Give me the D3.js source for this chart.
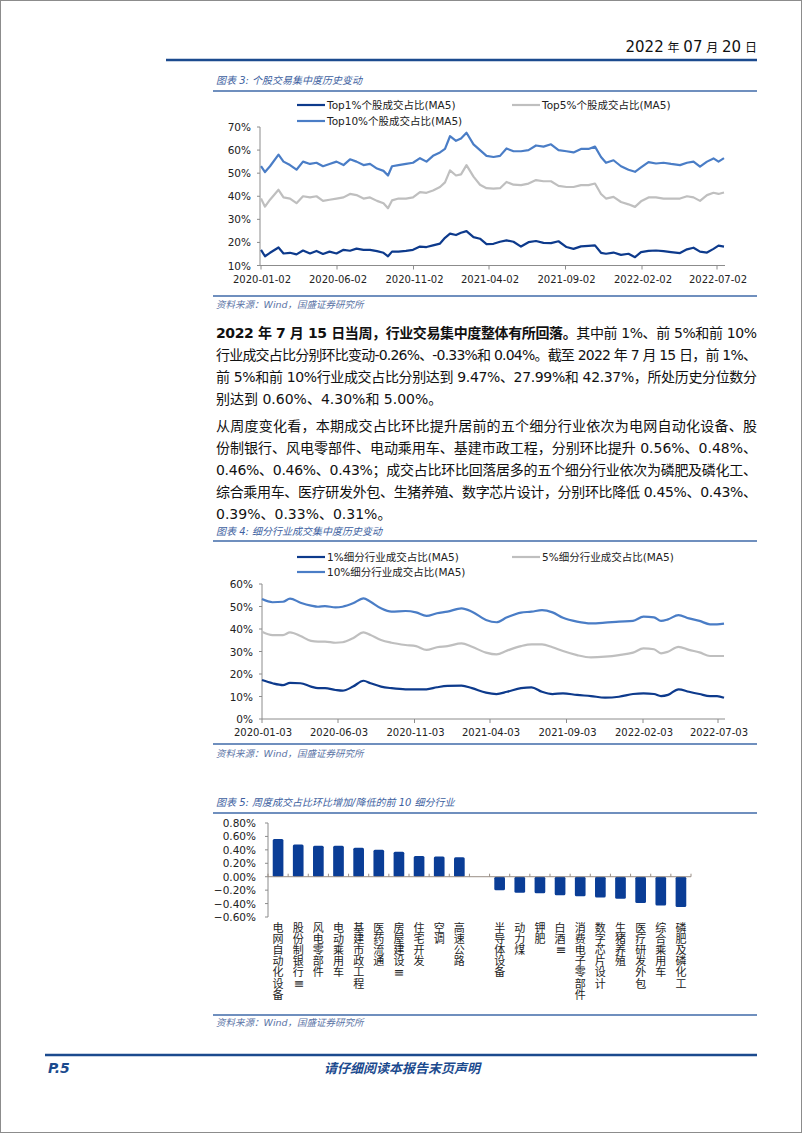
<!DOCTYPE html>
<html><head><meta charset="utf-8">
<script src="https://cdn.jsdelivr.net/npm/d3@7"></script>
<style>body{margin:0;background:#fff}svg{display:block}</style>
</head><body><svg id="c" width="802" height="1133"></svg>
<script>
// ---------- Chart 1 data (个股交易集中度) ----------
const dates1 = ['2020-01-02','2020-01-10','2020-01-20','2020-02-06','2020-02-16','2020-02-29','2020-03-13','2020-03-26','2020-04-09','2020-04-22','2020-05-05','2020-05-18','2020-06-01','2020-06-15','2020-06-28','2020-07-11','2020-07-25','2020-08-07','2020-08-21','2020-09-03','2020-09-12','2020-09-20','2020-10-03','2020-10-18','2020-11-01','2020-11-15','2020-11-28','2020-12-11','2020-12-25','2021-01-04','2021-01-14','2021-01-26','2021-02-05','2021-02-16','2021-03-02','2021-03-15','2021-03-28','2021-04-11','2021-04-24','2021-05-07','2021-05-21','2021-06-05','2021-06-20','2021-07-05','2021-07-20','2021-08-04','2021-08-19','2021-09-04','2021-09-18','2021-10-03','2021-10-18','2021-10-31','2021-11-12','2021-11-22','2021-12-07','2021-12-22','2022-01-06','2022-01-19','2022-01-31','2022-02-15','2022-03-02','2022-03-17','2022-04-01','2022-04-19','2022-05-03','2022-05-16','2022-05-29','2022-06-12','2022-06-25','2022-07-05','2022-07-16'];
const top1 = [16.8,14,15.5,17.8,15.2,15.5,14.8,16.5,15.2,16.3,15,16,15.2,16.8,16.4,17.3,16.8,16.8,16.2,15.5,14,16,16,16.3,16.8,18.2,18,18.7,19.5,22,23.8,23.2,24.2,24.9,22.3,21.6,19.3,19.4,20.3,20.9,20.3,18.2,20.1,20.6,19.8,19.7,20.5,18,17.2,18.3,18.5,18.7,15.5,15.1,15.6,14.6,15.1,13.6,15.8,16.3,16.5,16.2,15.8,15.4,17,17.7,16,15.6,17.2,18.6,18.2];
const top5 = [39,35.5,38.5,42.8,39.5,39,37,40,39.5,40,38,38.5,39,39.5,41,40.5,39,39.5,38,37,34.8,38.2,39,39,39.5,41.8,41.5,42.5,44,46,51.2,49,49.5,53.5,48.5,45,43.5,43.3,43.5,46.2,45,44.8,45.5,47,46.5,46.5,44.5,44,44,44.8,44.8,45.5,41,39,39.7,37.5,36.5,35.4,37.8,39.5,39.5,39,39,39,40,39.5,38,40.5,41.5,41,41.6];
const top10 = [53,50.5,53,58,55,53.5,51.5,55,54,54.5,53,54,55,53.5,56,55,53.5,54,52,51,49,53,53.5,54,54.5,56.5,55,57.5,59,60.5,66,64,65,67.5,62.5,60,57.5,57,57.5,60.7,59.5,59.5,60,62,61.5,62.5,60,59.5,59,60.5,60.5,61.5,57,54.5,55.6,53,51.5,50.6,52.5,54.8,54.2,54.5,54,53.5,54.5,55,52.8,55,56.4,55,56.5];
const xTicks1 = ['2020-01-02','2020-06-02','2020-11-02','2021-04-02','2021-09-02','2022-02-02','2022-07-02'];
const yTicks1 = [10,20,30,40,50,60,70];
const legend1 = ['Top1%个股成交占比(MA5)','Top5%个股成交占比(MA5)','Top10%个股成交占比(MA5)'];

// ---------- Chart 2 data (细分行业成交集中度) ----------
const dates2 = ['2020-01-03','2020-01-24','2020-02-14','2020-02-28','2020-03-20','2020-04-10','2020-04-24','2020-05-08','2020-05-29','2020-06-12','2020-07-03','2020-07-24','2020-08-07','2020-08-28','2020-09-18','2020-10-16','2020-11-06','2020-11-27','2020-12-18','2021-01-08','2021-02-05','2021-02-26','2021-03-26','2021-04-16','2021-05-07','2021-06-04','2021-06-25','2021-07-16','2021-08-06','2021-08-27','2021-09-24','2021-10-22','2021-11-19','2021-12-17','2022-01-14','2022-02-04','2022-02-25','2022-03-11','2022-03-25','2022-04-15','2022-05-06','2022-05-27','2022-06-17','2022-07-01','2022-07-15'];
const ind1 = [17.3,15.9,15.1,16.1,15.9,14.4,13.7,13.7,12.9,12.6,14.4,17,15.9,14.4,13.7,13.2,13.2,13.2,14.1,14.7,14.8,13.7,11.7,11.1,12.1,13.7,14.1,12.1,11.1,11.4,10.7,10.2,9.5,9.9,11.1,11.4,11.1,10.2,10.7,13.2,12.1,11.1,10.2,10.2,9.47];
const ind5 = [38.8,37.3,37.3,38.5,36.9,34.7,34.4,34.4,33.9,34.1,35.9,38.5,37.3,35.1,33.9,32.9,32.4,30.7,31.9,32.4,33.6,32.1,29.5,28.7,30.4,32.4,33.2,33.2,31.9,30.2,28.4,27.4,27.7,28.4,29.5,31.4,31,29.2,29.9,32.1,30.7,29.6,28,28,27.99];
const ind10 = [53.3,51.9,52.1,53.5,51.7,50.4,49.9,50.2,49.6,49.9,51.4,53.6,52.1,49.2,47.7,48,47.4,45.8,47,47.7,49.2,47.7,44,43,45.2,47.3,47.7,48.4,47.4,45,43.3,42.5,42.8,43.3,43.6,45.5,45.2,43.6,44.3,46.2,44.7,43.6,42.1,42.1,42.37];
const xTicks2 = ['2020-01-03','2020-06-03','2020-11-03','2021-04-03','2021-09-03','2022-02-03','2022-07-03'];
const yTicks2 = [0,10,20,30,40,50,60];
const legend2 = ['1%细分行业成交占比(MA5)','5%细分行业成交占比(MA5)','10%细分行业成交占比(MA5)'];

// ---------- Chart 3 data (周度环比变化前10) ----------
const cats3 = ['电网自动化设备','股份制银行Ⅲ','风电零部件','电动乘用车','基建市政工程','医药流通','房屋建设Ⅲ','住宅开发','空调','高速公路','','半导体设备','动力煤','钾肥','白酒Ⅲ','消费电子零部件','数字芯片设计','生猪养殖','医疗研发外包','综合乘用车','磷肥及磷化工'];
const vals3 = [0.56,0.48,0.46,0.46,0.43,0.40,0.37,0.31,0.30,0.29,null,-0.20,-0.24,-0.245,-0.275,-0.29,-0.31,-0.33,-0.39,-0.43,-0.45];
const yTicks3 = [-0.6,-0.4,-0.2,0,0.2,0.4,0.6,0.8];

// ---------- Text ----------
const para1 = [
  [{t:'2022 年 7 月 15 日当周，行业交易集中度整体有所回落。',b:true},{t:'其中前 1%、前 5%和前 10%'}],
  [{t:'行业成交占比分别环比变动-0.26%、-0.33%和 0.04%。截至 2022 年 7 月 15 日，前 1%、'}],
  [{t:'前 5%和前 10%行业成交占比分别达到 9.47%、27.99%和 42.37%，所处历史分位数分'}],
  [{t:'别达到 0.60%、4.30%和 5.00%。'}]
];
const para2 = [
  [{t:'从周度变化看，本期成交占比环比提升居前的五个细分行业依次为电网自动化设备、股'}],
  [{t:'份制银行、风电零部件、电动乘用车、基建市政工程，分别环比提升 0.56%、0.48%、'}],
  [{t:'0.46%、0.46%、0.43%；成交占比环比回落居多的五个细分行业依次为磷肥及磷化工、'}],
  [{t:'综合乘用车、医疗研发外包、生猪养殖、数字芯片设计，分别环比降低 0.45%、0.43%、'}],
  [{t:'0.39%、0.33%、0.31%。'}]
];

const FONT = '"DejaVu Sans","Noto Sans CJK SC",sans-serif';
const DARK = '#0d3a8c', GRAY = '#bfbfbf', MID = '#4a7dc6', HEAD = '#1b4a8e', TITLE = '#3e5f9f';
const parse = d3.timeParse('%Y-%m-%d');
const svg = d3.select('#c');
svg.append('rect').attr('x',0.5).attr('y',0.5).attr('width',801).attr('height',1132).attr('fill','#fff').attr('stroke','#8c8c8c');

// header
const hdr = svg.append('text').attr('x',757).attr('y',52).attr('text-anchor','end').attr('fill','#111').attr('font-family',FONT);
[['2022',15],[' 年 ',12],['07',15],[' 月 ',12],['20',15],[' 日',12]].forEach(([s,f])=>hdr.append('tspan').attr('font-size',f).text(s));
svg.append('line').attr('x1',166).attr('x2',757).attr('y1',60).attr('y2',60).attr('stroke',HEAD).attr('stroke-width',2.5);

function section(title, ty, ly){
  svg.append('text').attr('x',216).attr('y',ty).attr('font-family',FONT).attr('font-size',10).attr('font-style','italic').attr('fill',TITLE).text(title);
  svg.append('line').attr('x1',213).attr('x2',757).attr('y1',ly).attr('y2',ly).attr('stroke','#3f6aa8').attr('stroke-width',1.5);
}
function source(ly, ty){
  svg.append('line').attr('x1',213).attr('x2',757).attr('y1',ly).attr('y2',ly).attr('stroke','#3f6aa8').attr('stroke-width',1.5);
  svg.append('text').attr('x',216).attr('y',ty).attr('font-family',FONT).attr('font-size',9.5).attr('font-style','italic').attr('fill','#5b74a6').text('资料来源：Wind，国盛证券研究所');
}

function legend(items, colors, y1, y2){
  const pos = [[297,y1],[512,y1],[297,y2]];
  items.forEach((t,i)=>{
    const [x,y] = pos[i];
    svg.append('line').attr('x1',x).attr('x2',x+28).attr('y1',y).attr('y2',y).attr('stroke',colors[i]).attr('stroke-width',2.2);
    svg.append('text').attr('x',x+30).attr('y',y+4).attr('font-family',FONT).attr('font-size',10.5).attr('fill','#222').text(t);
  });
}

function lineChart(o){
  const g = svg.append('g');
  g.append('line').attr('x1',o.x0).attr('x2',o.x0).attr('y1',o.y.range()[0]).attr('y2',o.y.range()[1]).attr('stroke','#8c8c8c');
  o.yTicks.forEach(v=>{
    g.append('line').attr('x1',o.x0-3).attr('x2',o.x0).attr('y1',o.y(v)).attr('y2',o.y(v)).attr('stroke','#8c8c8c');
    g.append('text').attr('x',o.x0-9).attr('y',o.y(v)+4).attr('text-anchor','end').attr('font-family',FONT).attr('font-size',10.5).attr('fill','#222').text(v+'%');
  });
  const last = parse(o.dates[o.dates.length-1]);
  g.append('line').attr('x1',o.x0).attr('x2',o.x(last)+1).attr('y1',o.y.range()[0]).attr('y2',o.y.range()[0]).attr('stroke','#8c8c8c');
  o.xTicks.forEach(s=>{
    const xx = o.x(parse(s));
    g.append('line').attr('x1',xx).attr('x2',xx).attr('y1',o.y.range()[0]).attr('y2',o.y.range()[0]+4).attr('stroke','#8c8c8c');
    g.append('text').attr('x',xx+1).attr('y',o.y.range()[0]+17).attr('text-anchor','middle').attr('font-family',FONT).attr('font-size',10).attr('fill','#222').text(s);
  });
  o.series.forEach(([vals,color])=>{
    const line = d3.line().x((d,i)=>o.x(parse(o.dates[i]))).y(d=>o.y(d)).curve(o.curve||d3.curveLinear);
    g.append('path').datum(vals).attr('d',line).attr('fill','none').attr('stroke',color).attr('stroke-width',2.2).attr('stroke-linejoin','round');
  });
}

// ---------- Chart 1 ----------
section('图表 3:  个股交易集中度历史变动',84,91);
legend(legend1,[DARK,GRAY,MID],105,121);
lineChart({
  x: d3.scaleTime().domain([parse('2020-01-02'),parse('2022-07-02')]).range([261,717]),
  y: d3.scaleLinear().domain([10,70]).range([265.5,127]),
  x0: 260, dates: dates1, xTicks: xTicks1, yTicks: yTicks1,
  series: [[top5,GRAY],[top10,MID],[top1,DARK]]
});
source(296,308);

// ---------- Body text ----------
function paragraph(lines, y0, lh){
  lines.forEach((segs,i)=>{
    const t = svg.append('text').attr('x',216).attr('y',y0+i*lh).attr('font-family',FONT).attr('font-size',14).attr('fill','#111');
    segs.forEach(s=>t.append('tspan').attr('font-weight',s.b?'bold':'normal').text(s.t));
    if(i<lines.length-1){
      const n = t.node().textContent.length;
      const w = t.node().getComputedTextLength();
      t.attr('letter-spacing',(541-w)/(n-1));
    }
  });
}
paragraph(para1,338,22);
paragraph(para2,431,22);

// ---------- Chart 2 ----------
section('图表 4:  细分行业成交集中度历史变动',535,541);
legend(legend2,[DARK,GRAY,MID],557,572);
lineChart({
  x: d3.scaleTime().domain([parse('2020-01-03'),parse('2022-07-03')]).range([262,718]),
  y: d3.scaleLinear().domain([0,60]).range([719,584]),
  x0: 262, dates: dates2, xTicks: xTicks2, yTicks: yTicks2,
  series: [[ind5,GRAY],[ind10,MID],[ind1,DARK]], curve: d3.curveMonotoneX
});
source(744,757);

// ---------- Chart 3 ----------
section('图表 5:  周度成交占比环比增加/降低的前 10 细分行业',806,813);
const keys3 = cats3.map((c,i)=>c||('blank'+i));
const x3 = d3.scaleBand().domain(keys3).range([268,691]).paddingInner(0.47).paddingOuter(0.235);
const y3 = d3.scaleLinear().domain([-0.6,0.8]).range([917,823]);
const g3 = svg.append('g');
g3.append('line').attr('x1',268).attr('x2',268).attr('y1',y3(0.8)).attr('y2',y3(-0.6)).attr('stroke','#8c8c8c');
yTicks3.forEach(v=>{
  g3.append('line').attr('x1',265).attr('x2',268).attr('y1',y3(v)).attr('y2',y3(v)).attr('stroke','#8c8c8c');
  g3.append('text').attr('x',256).attr('y',y3(v)+4).attr('text-anchor','end').attr('font-family',FONT).attr('font-size',10.5).attr('fill','#222').text(d3.format('.2f')(v)+'%');
});
keys3.forEach((k,i)=>{
  const v = vals3[i];
  if(v==null) return;
  g3.append('rect').attr('x',x3(k)).attr('width',x3.bandwidth())
    .attr('y',y3(Math.max(0,v))).attr('height',Math.abs(y3(v)-y3(0))).attr('rx',1.5).attr('fill','#0a3d96');
});
const pad = (x3.step()-x3.bandwidth())/2;
g3.append('line').attr('x1',268).attr('x2',691).attr('y1',y3(0)).attr('y2',y3(0)).attr('stroke','#9a8f86');
keys3.forEach((k,i)=>{
  const bx = x3(k)-pad;
  g3.append('line').attr('x1',bx).attr('x2',bx).attr('y1',y3(0)-3).attr('y2',y3(0)).attr('stroke','#9a8f86');
});
g3.append('line').attr('x1',691).attr('x2',691).attr('y1',y3(0)-3).attr('y2',y3(0)).attr('stroke','#9a8f86');
keys3.forEach((k,i)=>{
  const cx = x3(k)+x3.bandwidth()/2;
  Array.from(cats3[i]).forEach((ch,j)=>{
    const cy = 928 + j*11.2;
    const t = g3.append('text').attr('x',cx).attr('y',cy).attr('text-anchor','middle').attr('dominant-baseline','central')
      .attr('font-family',FONT).attr('font-size',11).attr('fill','#222').text(ch);
    if(ch==='Ⅲ') t.attr('transform',`rotate(90,${cx},${cy})`);
  });
});
source(1015,1026);

// ---------- Footer ----------
svg.append('line').attr('x1',45).attr('x2',757).attr('y1',1055).attr('y2',1055).attr('stroke',HEAD).attr('stroke-width',2.5);
svg.append('text').attr('x',48).attr('y',1073).attr('font-family',FONT).attr('font-size',14).attr('font-weight','bold').attr('font-style','italic').attr('fill',HEAD).text('P.5');
svg.append('text').attr('x',402).attr('y',1073).attr('text-anchor','middle').attr('font-family',FONT).attr('font-size',13).attr('font-weight','bold').attr('font-style','italic').attr('fill',HEAD).text('请仔细阅读本报告末页声明');
</script></body></html>
